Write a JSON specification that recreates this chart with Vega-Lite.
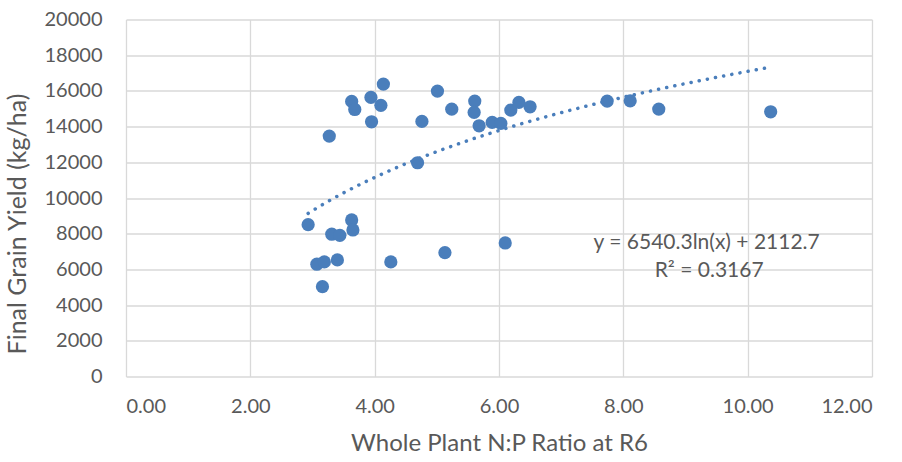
{
  "$schema": "https://vega.github.io/schema/vega-lite/v6.json",
  "width": 746,
  "height": 357,
  "autosize": {"type": "none"},
  "padding": {"left": 126, "top": 19.5, "right": 30, "bottom": 85.5},
  "background": "#ffffff",
  "config": {
    "view": {"stroke": null},
    "font": "Lato",
    "axis": {
      "domain": false,
      "ticks": false,
      "grid": true,
      "gridColor": "#d9d9d9",
      "gridWidth": 1.3,
      "labelColor": "#595959",
      "labelFontSize": 20,
      "labelOverlap": false,
      "labelBound": false,
      "titleColor": "#595959",
      "titleFontWeight": "normal",
      "labelFont": "Lato",
      "titleFont": "Lato"
    }
  },
  "datasets": {
    "pts": [
      {"np": 4.14, "yield": 16380},
      {"np": 3.63, "yield": 15410},
      {"np": 3.68, "yield": 14960},
      {"np": 3.94, "yield": 15635},
      {"np": 4.10, "yield": 15190},
      {"np": 3.95, "yield": 14270},
      {"np": 3.27, "yield": 13470},
      {"np": 5.01, "yield": 15990},
      {"np": 4.76, "yield": 14290},
      {"np": 4.69, "yield": 11975},
      {"np": 2.93, "yield": 8505},
      {"np": 3.63, "yield": 8770},
      {"np": 3.65, "yield": 8210},
      {"np": 3.31, "yield": 7970},
      {"np": 3.44, "yield": 7910},
      {"np": 3.07, "yield": 6290},
      {"np": 3.19, "yield": 6420},
      {"np": 3.40, "yield": 6530},
      {"np": 3.16, "yield": 5035},
      {"np": 4.26, "yield": 6420},
      {"np": 5.13, "yield": 6940},
      {"np": 5.24, "yield": 14975},
      {"np": 5.61, "yield": 15430},
      {"np": 5.60, "yield": 14795},
      {"np": 5.68, "yield": 14045},
      {"np": 5.89, "yield": 14235},
      {"np": 6.03, "yield": 14180},
      {"np": 6.19, "yield": 14925},
      {"np": 6.32, "yield": 15355},
      {"np": 6.50, "yield": 15110},
      {"np": 7.74, "yield": 15430},
      {"np": 8.11, "yield": 15445},
      {"np": 8.57, "yield": 14980},
      {"np": 10.37, "yield": 14830},
      {"np": 6.10, "yield": 7480}
    ],
    "one": [{}]
  },
  "layer": [
    {
      "data": {"name": "pts"},
      "mark": {"type": "circle", "size": 175, "color": "#4A7EBB", "opacity": 1},
      "encoding": {
        "x": {
          "field": "np",
          "type": "quantitative",
          "scale": {"domain": [0, 12], "nice": false, "zero": true},
          "axis": {
            "values": [0, 2, 4, 6, 8, 10, 12],
            "tickCount": 30,
            "format": ".2f",
            "title": "Whole Plant N:P Ratio at R6",
            "labelPadding": 20,
            "labelOverlap": false,
            "titleFontSize": 24,
            "titleBaseline": "alphabetic",
            "titleY": 74
          }
        },
        "y": {
          "field": "yield",
          "type": "quantitative",
          "scale": {"domain": [0, 20000], "nice": false},
          "axis": {
            "values": [0, 2000, 4000, 6000, 8000, 10000, 12000, 14000, 16000, 18000, 20000],
            "tickCount": 30,
            "format": "d",
            "title": "Final Grain Yield (kg/ha)",
            "labelPadding": 24,
            "labelOverlap": false,
            "titleFontSize": 25,
            "titleBaseline": "middle",
            "titleX": -109,
            "titleY": 204
          }
        }
      }
    },
    {
      "data": {"name": "pts"},
      "transform": [
        {"regression": "yield", "on": "np", "method": "log", "extent": [2.93, 10.37]}
      ],
      "mark": {
        "type": "line",
        "color": "#4A7EBB",
        "strokeWidth": 3.5,
        "strokeDash": [0.1, 8.2],
        "strokeCap": "round"
      },
      "encoding": {
        "x": {"field": "np", "type": "quantitative"},
        "y": {"field": "yield", "type": "quantitative"}
      }
    },
    {
      "data": {"name": "one"},
      "mark": {"type": "text", "align": "center", "baseline": "middle", "fontSize": 21, "color": "#595959", "text": "y = 6540.3ln(x) + 2112.7"},
      "encoding": {
        "x": {"datum": 9.34, "type": "quantitative"},
        "y": {"datum": 7480, "type": "quantitative"}
      }
    },
    {
      "data": {"name": "one"},
      "mark": {"type": "text", "align": "center", "baseline": "middle", "fontSize": 21, "color": "#595959", "text": "R² = 0.3167"},
      "encoding": {
        "x": {"datum": 9.38, "type": "quantitative"},
        "y": {"datum": 5900, "type": "quantitative"}
      }
    }
  ]
}
